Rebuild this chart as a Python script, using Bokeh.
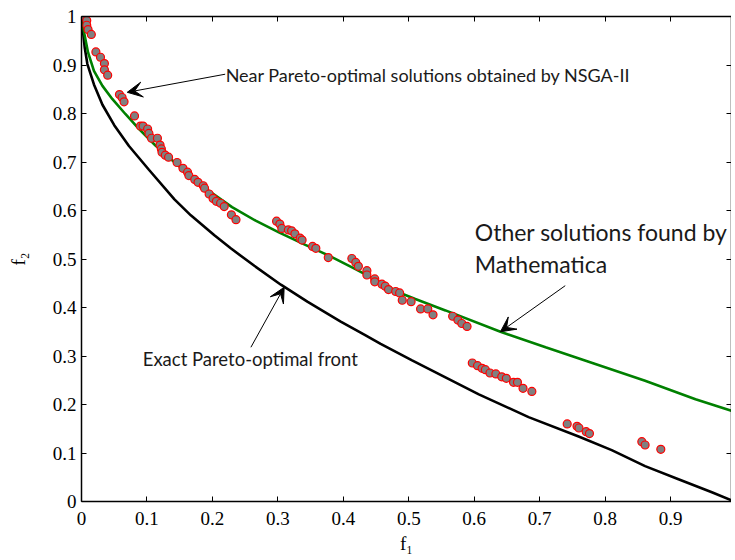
from bokeh.plotting import figure
from bokeh.models import Range1d, LinearAxis, FixedTicker, Label, Arrow, VeeHead
from bokeh.embed import file_html
from bokeh.resources import INLINE

# ---- data ----
exact_f1 = [0.000, 0.005, 0.009, 0.019, 0.032, 0.050, 0.0725, 0.103, 0.142, 0.167, 0.203,
            0.228, 0.264, 0.3046, 0.345, 0.396, 0.432, 0.457, 0.505, 0.556, 0.607, 0.683,
            0.7595, 0.810, 0.861, 0.912, 0.963, 0.9936]
exact_f2 = [0.998, 0.935, 0.902, 0.860, 0.818, 0.776, 0.733, 0.684, 0.623, 0.590, 0.549,
            0.522, 0.486, 0.447, 0.412, 0.371, 0.344, 0.325, 0.291, 0.256, 0.221, 0.174,
            0.134, 0.106, 0.073, 0.046, 0.019, 0.002]

math_f1 = [0.000, 0.005, 0.010, 0.019, 0.032, 0.047, 0.067, 0.088, 0.113, 0.139, 0.169,
           0.189, 0.230, 0.266, 0.3015, 0.342, 0.378, 0.4186, 0.485, 0.510, 0.556, 0.640,
           0.709, 0.785, 0.861, 0.938, 0.9936]
math_f2 = [0.995, 0.960, 0.926, 0.888, 0.857, 0.830, 0.799, 0.768, 0.734, 0.703, 0.668,
           0.646, 0.607, 0.579, 0.555, 0.529, 0.507, 0.479, 0.431, 0.4175, 0.394, 0.350,
           0.318, 0.2835, 0.249, 0.211, 0.187]

nsga_f1 = [0.004, 0.008, 0.008, 0.010, 0.015, 0.022, 0.029, 0.035, 0.035, 0.040, 0.058,
           0.062, 0.065, 0.081, 0.090, 0.094, 0.101, 0.103, 0.107, 0.116, 0.120, 0.122,
           0.123, 0.128, 0.133, 0.146, 0.155, 0.162, 0.164, 0.173, 0.178, 0.186, 0.188,
           0.195, 0.201, 0.206, 0.2125, 0.218, 0.229, 0.236, 0.298, 0.303, 0.306, 0.316,
           0.321, 0.326, 0.334, 0.337, 0.353, 0.358, 0.377, 0.413, 0.419, 0.423, 0.436,
           0.436, 0.448, 0.448, 0.459, 0.464, 0.469, 0.480, 0.486, 0.490, 0.5035, 0.518,
           0.529, 0.537, 0.567, 0.575, 0.581, 0.589, 0.597, 0.605, 0.612, 0.617, 0.624,
           0.633, 0.642, 0.649, 0.660, 0.666, 0.6745, 0.688, 0.742, 0.757, 0.760, 0.771,
           0.776, 0.856, 0.861, 0.885]
nsga_f2 = [1.000, 0.992, 0.982, 0.973, 0.963, 0.927, 0.916, 0.903, 0.890, 0.879, 0.839,
           0.833, 0.824, 0.795, 0.774, 0.774, 0.768, 0.759, 0.749, 0.749, 0.735, 0.727,
           0.720, 0.714, 0.710, 0.699, 0.687, 0.679, 0.672, 0.664, 0.658, 0.651, 0.646,
           0.634, 0.625, 0.619, 0.615, 0.608, 0.591, 0.581, 0.578, 0.572, 0.563, 0.560,
           0.558, 0.552, 0.543, 0.539, 0.526, 0.522, 0.503, 0.501, 0.493, 0.485, 0.476,
           0.467, 0.459, 0.453, 0.448, 0.444, 0.437, 0.433, 0.430, 0.415, 0.412, 0.397,
           0.397, 0.385, 0.382, 0.374, 0.367, 0.361, 0.2856, 0.280, 0.2746, 0.2718, 0.265,
           0.263, 0.257, 0.254, 0.2457, 0.2457, 0.2333, 0.227, 0.160, 0.155, 0.1515, 0.144,
           0.140, 0.1234, 0.1165, 0.1076]

x_ticks = [0, 0.1, 0.2, 0.3, 0.4, 0.5, 0.6, 0.7, 0.8, 0.9]
x_tick_labels = ["0", "0.1", "0.2", "0.3", "0.4", "0.5", "0.6", "0.7", "0.8", "0.9"]
y_ticks = [0, 0.1, 0.2, 0.3, 0.4, 0.5, 0.6, 0.7, 0.8, 0.9, 1]
y_tick_labels = ["0", "0.1", "0.2", "0.3", "0.4", "0.5", "0.6", "0.7", "0.8", "0.9", "1"]

# annotations: anchors and arrows (start -> tip)
note_nsga = "Near Pareto-optimal solutions obtained by NSGA-II"
note_nsga_xy = (0.2202, 0.879)
arrow_nsga = (0.2195, 0.881, 0.0699, 0.8437)

note_math = ["Other solutions found by", "Mathematica"]
note_math_xy = [(0.6008, 0.5557), (0.6008, 0.4897)]
arrow_math = (0.739, 0.445, 0.640, 0.350)

note_exact = "Exact Pareto-optimal front"
note_exact_xy = (0.0935, 0.2938)
arrow_exact = (0.2588, 0.318, 0.3096, 0.4417)

# ---- figure ----
SERIF = "Liberation Serif"
SANS = "Lato"

p = figure(frame_width=650, frame_height=485,
           x_range=Range1d(0, 0.993), y_range=Range1d(0, 1),
           output_backend="svg", toolbar_location=None,
           min_border_left=81, min_border_right=0, min_border_top=16, min_border_bottom=0)
p.grid.visible = False
p.outline_line_color = None
p.background_fill_color = "white"
p.border_fill_color = "white"


def style_axis(ax, ticks, labels, show_labels=True):
    ax.ticker = FixedTicker(ticks=ticks)
    ax.major_tick_in = 5
    ax.major_tick_out = 0
    ax.minor_tick_in = 0
    ax.minor_tick_out = 0
    ax.axis_line_width = 1.5
    ax.major_tick_line_width = 1
    ax.axis_line_color = "black"
    ax.major_tick_line_color = "black"
    if show_labels:
        ax.major_label_overrides = {t: l for t, l in zip(ticks, labels)}
        ax.major_label_text_font = SERIF
        ax.major_label_text_font_size = "19px"
        ax.major_label_text_color = "black"
        ax.axis_label_text_font = SERIF
        ax.axis_label_text_font_size = "19px"
        ax.axis_label_text_font_style = "normal"
        ax.axis_label_text_color = "black"
    else:
        ax.major_label_text_font_size = "1px"
        ax.major_label_text_color = None
        ax.major_label_standoff = 0


style_axis(p.xaxis[0], x_ticks, x_tick_labels)
style_axis(p.yaxis[0], y_ticks, y_tick_labels)
p.xaxis[0].major_label_standoff = 10
p.xaxis[0].axis_label = "f\u2081"
p.xaxis[0].axis_label_standoff = 5
p.yaxis[0].major_label_standoff = 5
p.yaxis[0].axis_label = "f\u2082"
p.yaxis[0].axis_label_standoff = 21

top_ax = LinearAxis()
style_axis(top_ax, x_ticks, x_tick_labels, show_labels=False)
p.add_layout(top_ax, "above")
right_ax = LinearAxis()
style_axis(right_ax, y_ticks, y_tick_labels, show_labels=False)
p.add_layout(right_ax, "right")

p.line(exact_f1, exact_f2, line_color="black", line_width=2.6)
p.line(math_f1, math_f2, line_color="#008000", line_width=2.6)
p.scatter(nsga_f1, nsga_f2, marker="circle", size=8,
          fill_color="#808080", line_color="#ff0000", line_width=1.2)

for (xs, ys, xe, ye) in [arrow_nsga, arrow_math, arrow_exact]:
    p.add_layout(Arrow(end=VeeHead(size=15, fill_color="black", line_color="black", line_width=1),
                       x_start=xs, y_start=ys, x_end=xe, y_end=ye,
                       line_color="black", line_width=1))

p.add_layout(Label(x=note_nsga_xy[0], y=note_nsga_xy[1], text=note_nsga,
                   text_font=SANS, text_font_size="18px", text_color="#1a1a1a",
                   text_baseline="middle", text_align="left"))
for txt, (lx, ly) in zip(note_math, note_math_xy):
    p.add_layout(Label(x=lx, y=ly, text=txt,
                       text_font=SANS, text_font_size="23px", text_color="#1a1a1a",
                       text_baseline="middle", text_align="left"))
p.add_layout(Label(x=note_exact_xy[0], y=note_exact_xy[1], text=note_exact,
                   text_font=SANS, text_font_size="18.5px", text_color="#1a1a1a",
                   text_baseline="middle", text_align="left"))

open("out.html", "w").write(file_html(p, INLINE))
